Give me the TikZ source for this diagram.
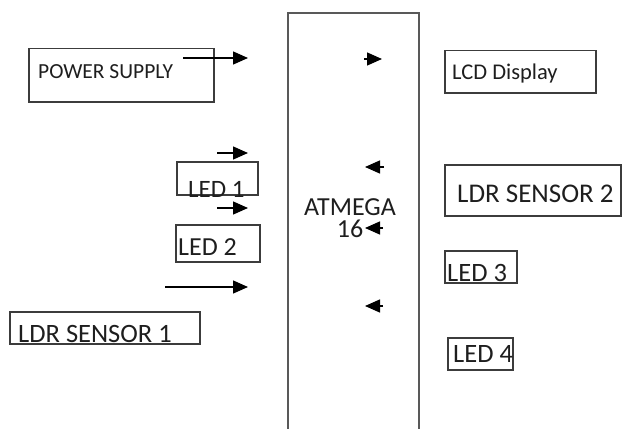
\documentclass[tikz,border=0pt]{standalone}
\usepackage{fontspec}
\setmainfont{Carlito}
\usetikzlibrary{arrows.meta}
\definecolor{boxgray}{HTML}{3C3C3C}
\definecolor{txtgray}{HTML}{1E1E1E}
\tikzset{
  blk/.style={draw=boxgray, line width=1.5pt, inner sep=0pt, anchor=north west},
  lbl/.style={anchor=base west, inner sep=0pt, text=txtgray},
  arr/.style={line width=1.4pt, -{Triangle[length=15pt,width=13pt]}},
}
\newcommand{\fs}[1]{\fontsize{#1}{#1}\selectfont}
\begin{document}
\begin{tikzpicture}[x=1pt,y=-1pt]
\useasboundingbox (0,0) rectangle (623,428);
% ATMEGA block (open at bottom)
\draw[draw=boxgray!85, line width=2pt] (288,429) -- (288,13) -- (419,13) -- (419,429);
\coordinate (mcu) at (353,13);
% boxes
\node[blk, minimum width=185pt, minimum height=53pt] (ps) at (28,48) {};
\node[blk, minimum width=81pt, minimum height=33pt] (led1) at (176,161) {};
\node[blk, minimum width=84pt, minimum height=37pt] (led2) at (175,224) {};
\node[blk, minimum width=190pt, minimum height=32pt] (ldr1) at (9,311) {};
\node[blk, minimum width=151pt, minimum height=42pt] (lcd) at (444,50) {};
\node[blk, minimum width=176pt, minimum height=51pt] (ldr2) at (444,164) {};
\node[blk, minimum width=72pt, minimum height=32pt] (led3) at (444,250) {};
\node[blk, minimum width=65pt, minimum height=32pt] (led4) at (447,337) {};
% labels
\node[lbl, font=\fs{21.5}] (tps) at (38,78.5) {POWER SUPPLY};
\node[lbl, font=\fs{25}] (tled1) at (188,197) {LED 1};
\node[lbl, font=\fs{26}] (tled2) at (178,255) {LED 2};
\node[lbl, font=\fs{26.5}] (tldr1) at (18,342) {LDR SENSOR 1};
\node[anchor=base, inner sep=0pt, text=txtgray, align=center,
      font=\fontsize{26}{22}\selectfont] (tatm) at (350,237) {ATMEGA\\16};
\node[lbl, font=\fs{22.5}] (tlcd) at (452,79) {LCD Display};
\node[lbl, font=\fs{27}] (tldr2) at (457,202) {LDR SENSOR 2};
\node[lbl, font=\fs{26.5}] (tled3) at (447,281) {LED 3};
\node[lbl, font=\fs{26.5}] (tled4) at (453,362) {LED 4};
% arrow end points
\coordinate (a1s) at (183,58);  \coordinate (a1e) at (248,58);
\coordinate (a2s) at (217,153); \coordinate (a2e) at (248,153);
\coordinate (a3s) at (217,208); \coordinate (a3e) at (248,208);
\coordinate (a4s) at (165,287); \coordinate (a4e) at (248,287);
\coordinate (b1s) at (364,59);  \coordinate (b1e) at (382,59);
\coordinate (b2s) at (384,167); \coordinate (b2e) at (365,167);
\coordinate (b3s) at (383,228); \coordinate (b3e) at (365,228);
\coordinate (b4s) at (383,306); \coordinate (b4e) at (365,306);
\draw[arr] (a1s) -- (a1e);
\draw[arr] (a2s) -- (a2e);
\draw[arr] (a3s) -- (a3e);
\draw[arr] (a4s) -- (a4e);
\draw[arr] (b1s) -- (b1e);
\draw[arr] (b2s) -- (b2e);
\draw[arr] (b3s) -- (b3e);
\draw[arr] (b4s) -- (b4e);
\end{tikzpicture}
\end{document}
